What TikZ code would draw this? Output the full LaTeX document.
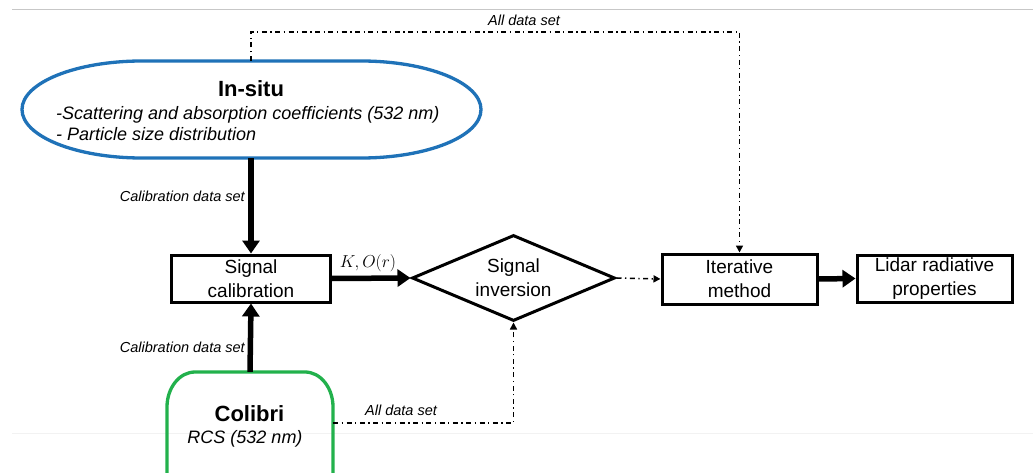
\documentclass[tikz,border=0pt]{standalone}
\usepackage{fontspec}
\setmainfont{Liberation Sans}
\usetikzlibrary{arrows.meta,shapes.geometric,calc}
\definecolor{insitublue}{HTML}{1F72B8}
\definecolor{colgreen}{HTML}{22B14C}
\begin{document}
\begin{tikzpicture}[x=1pt,y=-1pt,
  boxst/.style={draw, line width=3pt, align=center, inner sep=0pt,
    font=\fontsize{19}{24}\selectfont},
  thickarr/.style={line width=5.5pt, -{Triangle[length=13pt,width=17pt]}},
  ddarr/.style={line width=1.5pt, dash pattern=on 5pt off 3.5pt on 1.3pt off 3.5pt,
    -{Triangle[length=7pt,width=7pt]}},
  lbl/.style={font=\fontsize{14.5}{17}\selectfont\itshape, inner sep=0pt},
  ghost/.style={draw=none, inner sep=0pt}]
\useasboundingbox (0,0) rectangle (1033,473);
\clip (0,0) rectangle (1033,473);
\fill[white] (0,0) rectangle (1033,473);
% separator lines
\draw[line width=1pt, black!22] (12,10) -- (1033,10);
\draw[line width=0.8pt, black!5] (12,433) -- (1033,433);

% In-situ shape
\node[ghost, minimum width=459pt, minimum height=97pt] (insitu) at (251,109.5) {};
\draw[insitublue, line width=3.3pt] (142,61) -- (361,61)
  arc[start angle=-90, end angle=90, x radius=120, y radius=48.5] -- (142,158)
  arc[start angle=90, end angle=270, x radius=120, y radius=48.5] -- cycle;
\node[anchor=base, font=\fontsize{22}{26}\selectfont\bfseries, inner sep=0pt] (insitut) at (251,97) {In-situ};
\node[anchor=base west, font=\fontsize{18}{22}\selectfont\itshape, inner sep=0pt] (insitu1) at (56,119.3) {-Scattering and absorption coefficients (532 nm)};
\node[anchor=base west, font=\fontsize{18}{22}\selectfont\itshape, inner sep=0pt] (insitu2) at (56,140.7) {- Particle size distribution};

% Colibri shape
\node[ghost, minimum width=166pt, minimum height=102pt] (colibri) at (250,423) {};
\draw[colgreen, line width=3.3pt] (167,520) -- (167,407)
  arc[start angle=180, end angle=270, x radius=28, y radius=35] -- (305,372)
  arc[start angle=270, end angle=360, x radius=28, y radius=35] -- (333,520);
\node[anchor=base, font=\fontsize{22}{26}\selectfont\bfseries, inner sep=0pt] (colibrit) at (249.5,421.7) {Colibri};
\node[anchor=base, font=\fontsize{18}{22}\selectfont\itshape, inner sep=0pt] (colibri1) at (245,443.3) {RCS (532 nm)};

% boxes
\node[boxst, minimum width=159pt, minimum height=47pt] (calib) at (251,278.5) {Signal\\calibration};
\node[boxst, diamond, aspect=2.36, minimum width=203pt, minimum height=86pt] (inv) at (513.5,278) {Signal\\inversion};
\node[boxst, minimum width=155pt, minimum height=50pt] (iter) at (739.5,279) {Iterative\\method};
\node[boxst, minimum width=155pt, minimum height=47pt] (lidar) at (934.5,278.5) {Lidar radiative\\properties};

% thick arrows
\draw[thickarr] (insitu.south) -- (calib.north);
\draw[thickarr] (colibri.north) -- (calib.south);
\draw[thickarr] (calib.east) -- (inv.west);
\draw[thickarr] (iter.east) -- (lidar.west);

% dash-dot arrows
\draw[ddarr] (insitu.north) -- ++(0,-29) -| (iter.north);
\draw[ddarr] (inv.east) -- (iter.west);
\draw[ddarr] (colibri.east) -| (inv.south);

% labels
\node[lbl, anchor=base] (lblall1) at (524,25.5) {All data set};
\node[lbl, anchor=base east] (lblcal1) at (245,201.7) {Calibration data set};
\node[lbl, anchor=base east] (lblcal2) at (245,352.7) {Calibration data set};
\node[lbl, anchor=base] (lblall2) at (401,415) {All data set};
\node[anchor=base, inner sep=0pt, font=\fontsize{16.5}{18}\selectfont] (ko) at (368,267) {$K,O(r)$};
\end{tikzpicture}
\end{document}
